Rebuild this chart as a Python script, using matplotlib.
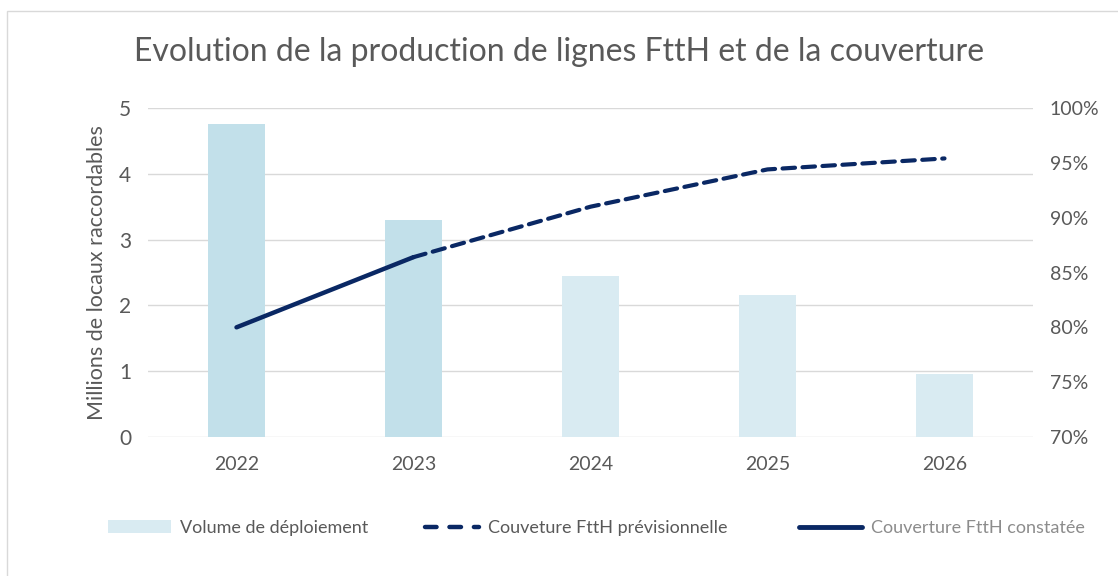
import matplotlib
matplotlib.use("Agg")
import matplotlib.pyplot as plt
from matplotlib.patches import Patch, Rectangle
from matplotlib.lines import Line2D
from matplotlib.ticker import FuncFormatter

years = ["2022", "2023", "2024", "2025", "2026"]
volume = [4.75, 3.30, 2.45, 2.16, 0.95]
bar_colors = ["#c2e0ea", "#c2e0ea", "#d9ebf2", "#d9ebf2", "#d9ebf2"]
observed_years = ["2022", "2023"]
observed_cov = [0.800, 0.864]
forecast_years = ["2023", "2024", "2025", "2026"]
forecast_cov = [0.864, 0.910, 0.944, 0.954]

left_ticks = [0, 1, 2, 3, 4, 5]
right_ticks = [0.70, 0.75, 0.80, 0.85, 0.90, 0.95, 1.00]

FONT = "Lato"
GRAY = "#595959"
NAVY = "#0a2864"

fig = plt.figure(figsize=(11.18, 5.76), dpi=100)
fig.patches.append(Rectangle((7/1118, -0.1), 1.2, (1 - 11/576) + 0.1,
                             transform=fig.transFigure, fill=False,
                             edgecolor="#d9d9d9", linewidth=1.0))

ax = fig.add_axes([148/1118, 1 - 437/576, (1033 - 148)/1118, (437 - 108)/576])
x = list(range(len(years)))
ax.bar(x, volume, width=0.32, color=bar_colors, zorder=2)
ax.set_xlim(-0.5, len(years) - 0.5)
ax.set_ylim(0, 5)
ax.set_yticks(left_ticks)
ax.set_xticks(x)
ax.set_xticklabels(years)
ax.grid(axis="y", color="#d9d9d9", linewidth=1.0, zorder=0)
ax.set_axisbelow(True)
for s in ax.spines.values():
    s.set_visible(False)
ax.tick_params(axis="both", length=0, colors=GRAY)
ax.tick_params(axis="y", labelsize=15, pad=12)
ax.tick_params(axis="x", labelsize=14, pad=14)
for lab in ax.get_xticklabels() + ax.get_yticklabels():
    lab.set_fontfamily(FONT)
ax.set_ylabel("Millions de locaux raccordables", fontsize=15.5, color=GRAY,
              fontfamily=FONT, labelpad=9)

ax2 = ax.twinx()
ax2.set_ylim(0.70, 1.00)
ax2.set_yticks(right_ticks)
ax2.yaxis.set_major_formatter(FuncFormatter(lambda v, p: f"{round(v*100)}%"))
for s in ax2.spines.values():
    s.set_visible(False)
ax2.tick_params(axis="y", length=0, colors=GRAY, labelsize=14, pad=12)
for lab in ax2.get_yticklabels():
    lab.set_fontfamily(FONT)

ox = [years.index(y) for y in observed_years]
fx = [years.index(y) for y in forecast_years]
ax2.plot(fx, forecast_cov, color=NAVY, linewidth=3.0, linestyle=(0, (3, 1.8)),
         dash_capstyle="round", zorder=3)
ax2.plot(ox, observed_cov, color=NAVY, linewidth=3.2, solid_capstyle="round", zorder=4)

fig.text(0.5, 1 - 52/576, "Evolution de la production de lignes FttH et de la couverture",
         ha="center", va="center", fontsize=23, color=GRAY, fontfamily=FONT)

leg_y = 1 - 528/576
items = [
    (Patch(facecolor="#d9ebf2", edgecolor="none"), "Volume de déploiement", 108, 3.5, GRAY),
    (Line2D([], [], color=NAVY, linewidth=3.2, linestyle=(0, (2.6, 2.9)), dash_capstyle="round"),
     "Couveture FttH prévisionnelle", 425, 3.0, GRAY),
    (Line2D([], [], color=NAVY, linewidth=3.5, solid_capstyle="round"),
     "Couverture FttH constatée", 799, 3.5, "#8c8c8c"),
]
for h, label, px, hl, tc in items:
    lg = fig.legend([h], [label], loc="center left", bbox_to_anchor=(px/1118, leg_y),
                    frameon=False, handlelength=hl, handletextpad=0.5, borderpad=0,
                    borderaxespad=0, prop={"family": FONT, "size": 13})
    for t in lg.get_texts():
        t.set_color(tc)

fig.savefig("out.png", dpi=100)
